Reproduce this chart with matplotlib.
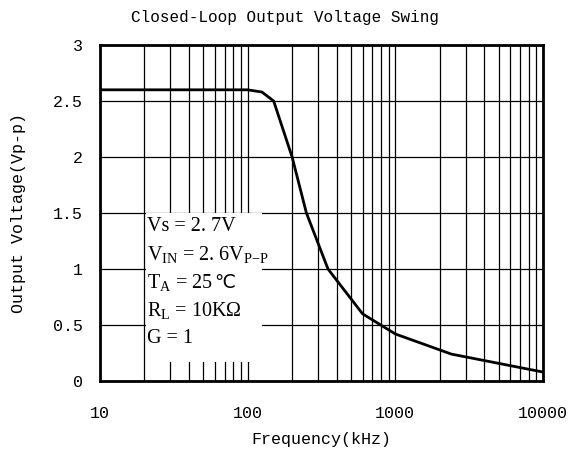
import matplotlib.pyplot as plt
from matplotlib.patches import Rectangle
from matplotlib.ticker import FixedLocator, NullFormatter

plt.rcParams['mathtext.fontset'] = 'custom'
plt.rcParams['mathtext.rm'] = 'Liberation Serif'
plt.rcParams['mathtext.it'] = 'Liberation Serif'

# data
freq_khz = [10, 100, 125, 150, 200, 250, 350, 600, 1000, 2400, 10000]
vout_pp = [2.6, 2.6, 2.58, 2.5, 2.0, 1.5, 1.0, 0.6, 0.42, 0.24, 0.08]
x_ticks = [10, 100, 1000, 10000]
x_tick_labels = ['10', '100', '1000', '10000']
y_ticks = [0, 0.5, 1, 1.5, 2, 2.5, 3]
y_tick_labels = ['0', '0.5', '1', '1.5', '2', '2.5', '3']
# (main text, plain suffix drawn in a font that has the glyph)
notes = [('Vs = 2. 7V', ''),
         (r'V$_{\rm IN}$ = 2. 6V$_{\rm P\!-\!P}$', ''),
         (r'T$_{\rm A}$ = 25', '℃'),
         (r'R$_{\rm L}$ = 10K$\Omega$', ''),
         ('G = 1', '')]

mono = 'Liberation Mono'

fig = plt.figure(figsize=(5.79, 4.51), dpi=100)
ax = fig.add_axes([0.1727, 0.1552, 0.7651, 0.745])

ax.set_xscale('log')
ax.set_xlim(10, 10000)
ax.set_ylim(0, 3)

minors = [m * 10 ** e for e in range(1, 4) for m in range(2, 10)]
ax.xaxis.set_major_locator(FixedLocator(x_ticks))
ax.xaxis.set_minor_locator(FixedLocator(minors))
ax.xaxis.set_minor_formatter(NullFormatter())
ax.set_xticks(x_ticks, x_tick_labels)
ax.set_yticks(y_ticks, y_tick_labels)

ax.grid(True, which='both', axis='x', color='black', lw=0.9)
ax.grid(True, which='major', axis='y', color='black', lw=0.9)
ax.set_axisbelow(True)
ax.tick_params(which='both', length=0)
ax.tick_params(axis='x', pad=18)
ax.tick_params(axis='y', pad=12)
for lab in ax.get_xticklabels() + ax.get_yticklabels():
    lab.set_fontfamily(mono)
    lab.set_fontsize(12)

for s in ax.spines.values():
    s.set_linewidth(2)

# white box behind the notes
ax.add_patch(Rectangle((20.5, 0.17), 125 - 20.5, 1.5 - 0.17,
                       facecolor='white', edgecolor='none', zorder=1))

ax.plot(freq_khz, vout_pp, color='black', lw=2, zorder=3)

y0 = 1.38
for i, (t, suffix) in enumerate(notes):
    txt = ax.text(20.8, y0 - i * 0.25, t, fontsize=14.5, va='center',
                  ha='left', family='Liberation Serif', zorder=4)
    if suffix:
        ax.annotate(suffix, xy=(1, 0.5), xycoords=txt, xytext=(1, 0),
                    textcoords='offset points', va='center', ha='left',
                    fontsize=13.5, family='DejaVu Sans', zorder=4)

fig.suptitle('Closed-Loop Output Voltage Swing', fontfamily=mono,
             fontsize=11.5, x=0.492, y=0.978, va='top')
ax.set_xlabel('Frequency(kHz)', fontfamily=mono, fontsize=12, labelpad=8)
ax.set_ylabel('Output Voltage(Vp-p)', fontfamily=mono, fontsize=12,
              labelpad=20)

fig.savefig('out.png', dpi=100)
